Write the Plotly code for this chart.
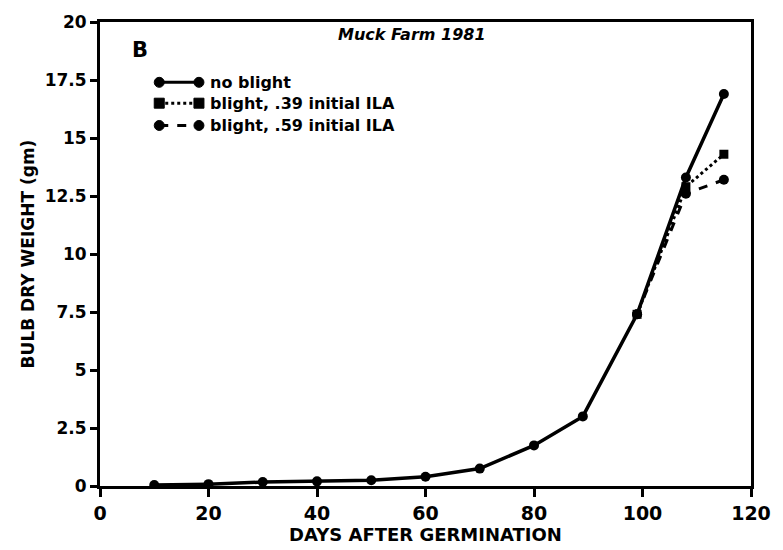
import plotly.graph_objects as go

# ---- data ----
days = [10, 20, 30, 40, 50, 60, 70, 80, 89, 99, 108, 115]
no_blight = [0.04, 0.08, 0.17, 0.2, 0.25, 0.4, 0.75, 1.75, 3.0, 7.4, 13.3, 16.9]
days_blight = [99, 108, 115]
blight_39 = [7.4, 12.9, 14.3]
blight_59 = [7.4, 12.6, 13.2]

series_names = ["no blight", "blight, .39 initial ILA", "blight, .59 initial ILA"]
y_ticks = [0, 2.5, 5, 7.5, 10, 12.5, 15, 17.5, 20]
y_tick_text = ["0", "2.5", "5", "7.5", "10", "12.5", "15", "17.5", "20"]
x_ticks = [0, 20, 40, 60, 80, 100, 120]

FONT = "DejaVu Sans"
BLACK = "black"

fig = go.Figure()
fig.add_trace(go.Scatter(x=days, y=no_blight, mode="lines+markers", name=series_names[0],
                         line=dict(color=BLACK, width=3.5),
                         marker=dict(symbol="circle", size=10, color=BLACK)))
fig.add_trace(go.Scatter(x=days_blight, y=blight_39, mode="lines+markers", name=series_names[1],
                         line=dict(color=BLACK, width=3, dash="dot"),
                         marker=dict(symbol="square", size=9, color=BLACK)))
fig.add_trace(go.Scatter(x=days_blight, y=blight_59, mode="lines+markers", name=series_names[2],
                         line=dict(color=BLACK, width=3, dash="dash"),
                         marker=dict(symbol="circle", size=10, color=BLACK)))

# ---- custom legend keys (paper coords) ----
shapes = []
annotations = []
rows = [(0.870, "solid", "circle", "circle"),
        (0.825, "dot", "square", "square"),
        (0.777, "dash", "circle", "circle")]
kx0, kx1, tx = 0.091, 0.152, 0.166
for (yy, dash, m0, m1), name in zip(rows, series_names):
    shapes.append(dict(type="line", xref="paper", yref="paper", x0=kx0, x1=kx1, y0=yy, y1=yy,
                       line=dict(color=BLACK, width=3, dash=dash)))
    for xx, m in ((kx0, m0), (kx1, m1)):
        shapes.append(dict(type="circle" if m == "circle" else "rect",
                           xref="paper", yref="paper", xsizemode="pixel", ysizemode="pixel",
                           xanchor=xx, yanchor=yy, x0=-5, x1=5, y0=-5, y1=5,
                           fillcolor=BLACK, line=dict(color=BLACK, width=1)))
    annotations.append(dict(text=name, xref="paper", yref="paper", x=tx, y=yy,
                            xanchor="left", yanchor="middle", showarrow=False,
                            font=dict(family=FONT, size=16, color=BLACK, weight="bold")))

annotations.append(dict(text="<i>Muck Farm 1981</i>", xref="paper", yref="paper",
                        x=0.479, y=0.972, xanchor="center", yanchor="middle", showarrow=False,
                        font=dict(family=FONT, size=16, color=BLACK, weight="bold")))
annotations.append(dict(text="B", xref="paper", yref="paper",
                        x=0.061, y=0.94, xanchor="center", yanchor="middle", showarrow=False,
                        font=dict(family=FONT, size=21, color=BLACK, weight="bold")))

fig.update_layout(
    width=783, height=550,
    margin=dict(l=100, r=26, t=17, b=57),
    paper_bgcolor="white", plot_bgcolor="white",
    showlegend=False,
    shapes=shapes, annotations=annotations,
    font=dict(family=FONT, color=BLACK),
)
fig.update_xaxes(range=[0, 120], tickvals=x_ticks, ticks="outside", ticklen=8, tickwidth=3,
                 tickcolor=BLACK, showline=True, linecolor=BLACK, linewidth=3, mirror=True,
                 showgrid=False, zeroline=False,
                 tickfont=dict(family=FONT, size=19, color=BLACK, weight="bold"),
                 title=dict(text="DAYS AFTER GERMINATION", standoff=2,
                            font=dict(family=FONT, size=18, color=BLACK, weight="bold")))
fig.update_yaxes(range=[0, 20], tickvals=y_ticks, ticktext=y_tick_text, ticks="outside",
                 ticklen=7, tickwidth=3, tickcolor=BLACK, showline=True, linecolor=BLACK,
                 linewidth=3, mirror=True, showgrid=False, zeroline=False,
                 tickfont=dict(family=FONT, size=17, color=BLACK, weight="bold"),
                 title=dict(text="BULB DRY WEIGHT (gm)", standoff=6,
                            font=dict(family=FONT, size=17, color=BLACK, weight="bold")))

fig.write_html("out.html")
